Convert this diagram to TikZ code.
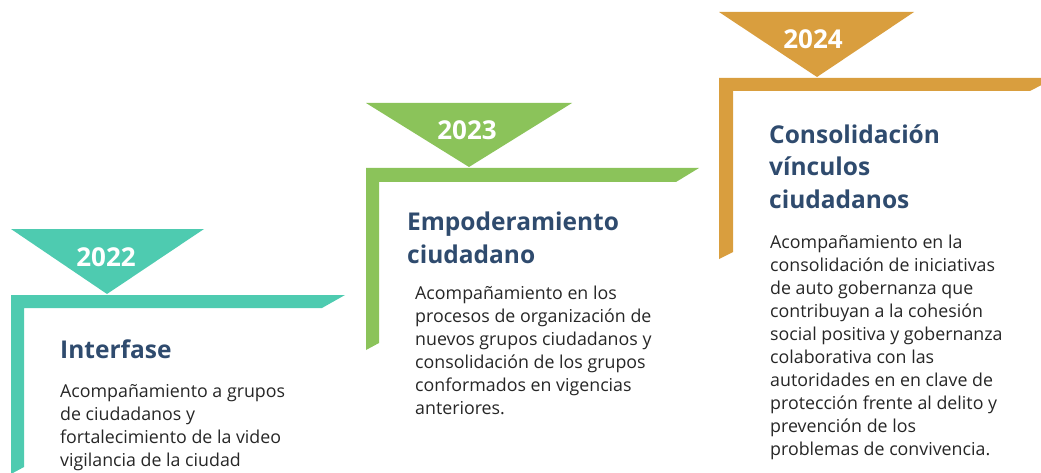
\documentclass[tikz,border=0pt]{standalone}
\usepackage{fontspec}
\setmainfont{Open Sans}
\usepackage{tikz}
\usetikzlibrary{positioning}
\definecolor{tealband}{RGB}{78,203,176}
\definecolor{greenband}{RGB}{139,195,90}
\definecolor{orangeband}{RGB}{217,158,62}
\definecolor{titleblue}{RGB}{47,75,110}
\definecolor{bodygray}{RGB}{38,38,38}

% base anchor of a multi-line node = baseline of its last line
\tikzset{
  yeartxt/.style={text=white,font=\bfseries\fontsize{26}{30}\selectfont,
    inner sep=0pt,anchor=base},
  titletxt/.style={text=titleblue,font=\bfseries\fontsize{24.5}{32.5}\selectfont,
    inner sep=0pt,anchor=base west,align=left},
  bodytxt/.style={text=bodygray,font=\fontsize{17.8}{23}\selectfont,
    inner sep=0pt,anchor=base west,align=left}
}

\begin{document}
\begin{tikzpicture}[x=1pt,y=-1pt]
      \useasboundingbox (0,0) rectangle (1041,473);
      % 2022
      \fill[tealband] (11,229) -- (204,229) -- (107,294) -- cycle;
      \fill[tealband] (11,295) -- (345,295) -- (322,308) -- (24,308)
        -- (24,467) -- (11,474) -- cycle;
      \node[yeartxt] (y2022) at (106,266) {2022};
      \node[titletxt] (t2022) at (60,358) {Interfase};
      \node[bodytxt] (b2022) at (60,466) {Acompañamiento a grupos\\
        de ciudadanos y\\ fortalecimiento de la video\\
        vigilancia de la ciudad};
      % 2023
      \fill[greenband] (366,103) -- (572,103) -- (469,167) -- cycle;
      \fill[greenband] (366,168) -- (699,168) -- (676,182) -- (379,182)
        -- (379,343) -- (366,350) -- cycle;
      \node[yeartxt] (y2023) at (467,140) {2023};
      \node[titletxt] (t2023) at (407,263) {Empoderamiento\\ ciudadano};
      \node[bodytxt] (b2023) at (415,414) {Acompañamiento en los\\
        procesos de organización de\\ nuevos grupos ciudadanos y\\
        consolidación de los grupos\\ conformados en vigencias\\
        anteriores.};
      % 2024
      \fill[orangeband] (719,12) -- (914,12) -- (817,77) -- cycle;
      \fill[orangeband] (719,78) -- (1055,78) -- (1030,91) -- (733,91)
        -- (733,252) -- (719,259) -- cycle;
      \node[yeartxt] (y2024) at (813,49) {2024};
      \node[titletxt] (t2024) at (769,208) {Consolidación\\ vínculos\\
        ciudadanos};
      \node[bodytxt] (b2024) at (770,455) {Acompañamiento en la\\
        consolidación de iniciativas\\ de auto gobernanza que\\
        contribuyan a la cohesión\\ social positiva y gobernanza\\
        colaborativa con las\\ autoridades en en clave de\\
        protección frente al delito y\\ prevención de los\\
        problemas de convivencia.};
    \end{tikzpicture}
\end{document}
